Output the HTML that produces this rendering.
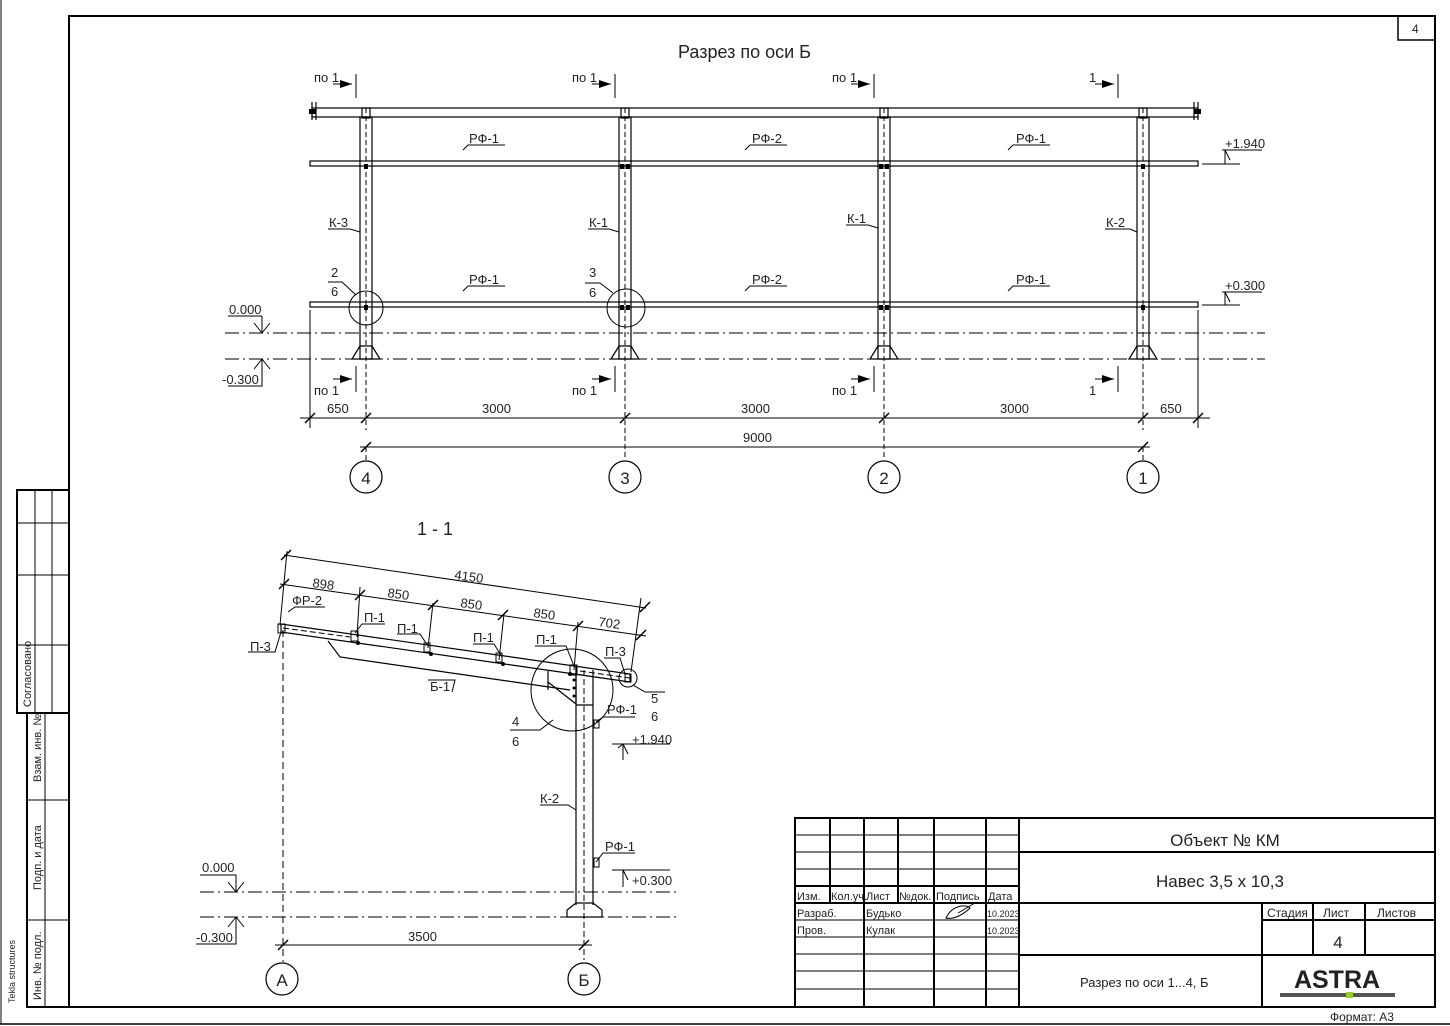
<!DOCTYPE html>
<html><head><meta charset="utf-8"><style>
html,body{margin:0;padding:0;background:#fff}
svg{display:block}
text{font-family:"Liberation Sans",sans-serif;fill:#222}
</style></head><body>
<svg width="1450" height="1026" viewBox="0 0 1450 1026" xmlns="http://www.w3.org/2000/svg">
<g fill="none" stroke="#000">
<!-- frame -->
<rect x="69" y="16" width="1366" height="991" stroke-width="2"/>
<line x1="1" y1="0" x2="1" y2="1024" stroke-width="1"/>
<line x1="0" y1="1024" x2="1450" y2="1024" stroke-width="1.5"/>
<rect x="1398" y="16" width="37" height="24" stroke-width="1.5"/>
<!-- left stamp -->
<rect x="17" y="490" width="52" height="223" stroke-width="2"/>
<line x1="35" y1="490" x2="35" y2="713" stroke-width="1"/>
<line x1="52" y1="490" x2="52" y2="713" stroke-width="1"/>
<line x1="17" y1="523" x2="69" y2="523" stroke-width="1"/>
<line x1="17" y1="575" x2="69" y2="575" stroke-width="1"/>
<line x1="17" y1="645" x2="69" y2="645" stroke-width="1"/>
<rect x="27" y="713" width="42" height="294" stroke-width="2"/>
<line x1="45" y1="713" x2="45" y2="1007" stroke-width="1"/>
<line x1="27" y1="800" x2="69" y2="800" stroke-width="1"/>
<line x1="27" y1="920" x2="69" y2="920" stroke-width="1"/>
</g>
<text x="0" y="0" font-size="11" transform="translate(31,707) rotate(-90)">Согласовано</text>
<text x="0" y="0" font-size="11" transform="translate(41,782) rotate(-90)">Взам. инв. №</text>
<text x="0" y="0" font-size="11" transform="translate(41,890) rotate(-90)">Подп. и дата</text>
<text x="0" y="0" font-size="11" transform="translate(41,1000) rotate(-90)">Инв. № подл.</text>
<text x="0" y="0" font-size="9" transform="translate(15,1003) rotate(-90)">Tekla structures</text>
<text x="1412" y="33" font-size="12">4</text>

<!-- ======== TOP SECTION ======== -->
<text x="678" y="58" font-size="18">Разрез по оси Б</text>
<g fill="none" stroke="#000" stroke-width="1.2">
<!-- top beam -->
<rect x="312" y="108" width="886" height="9"/>
<line x1="312" y1="102" x2="312" y2="120"/><line x1="316" y1="102" x2="316" y2="120"/>
<line x1="1194" y1="102" x2="1194" y2="120"/><line x1="1198" y1="102" x2="1198" y2="120"/>
<!-- rails -->
<rect x="310" y="161" width="888" height="5"/>
<rect x="310" y="302" width="888" height="5"/>
<!-- columns -->
<g id="col">
<rect x="360" y="117" width="12" height="242"/>
<rect x="362" y="108" width="8" height="10"/>
<path d="M352 359 L360 346 L372 346 L380 359 Z"/>
</g>
<use href="#col" x="259"/><use href="#col" x="518"/><use href="#col" x="777"/>
<g stroke-dasharray="5,3" stroke-width="1">
<line x1="366" y1="108" x2="366" y2="430"/><line x1="625" y1="108" x2="625" y2="460"/>
<line x1="884" y1="108" x2="884" y2="460"/><line x1="1143" y1="108" x2="1143" y2="430"/>
</g>
<!-- datum lines -->
<line x1="225" y1="333" x2="1265" y2="333" stroke-dasharray="14,4,2,4" stroke-width="1"/>
<line x1="225" y1="359" x2="1265" y2="359" stroke-dasharray="14,4,2,4" stroke-width="1"/>
<!-- detail circles -->
<circle cx="366" cy="308" r="17" stroke-width="1"/>
<circle cx="626" cy="308" r="19" stroke-width="1"/>
<!-- dims -->
<line x1="300" y1="418" x2="1210" y2="418" stroke-width="1"/>
<line x1="310" y1="310" x2="310" y2="428" stroke-width="1"/>
<line x1="1198" y1="310" x2="1198" y2="428" stroke-width="1"/>
<line x1="360" y1="447" x2="1150" y2="447" stroke-width="1"/>
<!-- ticks -->
<g stroke-width="1.5">
<line x1="305" y1="423" x2="315" y2="413"/><line x1="361" y1="423" x2="371" y2="413"/>
<line x1="620" y1="423" x2="630" y2="413"/><line x1="879" y1="423" x2="889" y2="413"/>
<line x1="1138" y1="423" x2="1148" y2="413"/><line x1="1193" y1="423" x2="1203" y2="413"/>
<line x1="361" y1="452" x2="371" y2="442"/><line x1="1138" y1="452" x2="1148" y2="442"/>
</g>
<line x1="366" y1="447" x2="366" y2="461" stroke-dasharray="5,3" stroke-width="1"/>
<line x1="1143" y1="447" x2="1143" y2="461" stroke-dasharray="5,3" stroke-width="1"/>
<circle cx="366" cy="477" r="16"/><circle cx="625" cy="477" r="16"/>
<circle cx="884" cy="477" r="16"/><circle cx="1143" cy="477" r="16"/>
<!-- section marks -->
<g stroke-width="1">
<line x1="356" y1="74" x2="356" y2="98"/><line x1="615" y1="74" x2="615" y2="98"/>
<line x1="874" y1="74" x2="874" y2="98"/><line x1="1118" y1="74" x2="1118" y2="98"/>
<line x1="356" y1="366" x2="356" y2="392"/><line x1="615" y1="366" x2="615" y2="392"/>
<line x1="874" y1="366" x2="874" y2="392"/><line x1="1118" y1="366" x2="1118" y2="392"/>
<line x1="333" y1="84" x2="352" y2="84"/><line x1="592" y1="84" x2="611" y2="84"/>
<line x1="851" y1="84" x2="870" y2="84"/><line x1="1095" y1="84" x2="1114" y2="84"/>
<line x1="333" y1="379" x2="352" y2="379"/><line x1="592" y1="379" x2="611" y2="379"/>
<line x1="851" y1="379" x2="870" y2="379"/><line x1="1095" y1="379" x2="1114" y2="379"/>
</g>
<!-- leaders -->
<g stroke-width="1">
<polyline points="463,150 468,145 505,145"/><polyline points="745,150 750,145 787,145"/>
<polyline points="1008,150 1013,145 1050,145"/>
<polyline points="463,291 468,286 505,286"/><polyline points="745,291 750,286 787,286"/>
<polyline points="1008,291 1013,286 1050,286"/>
<polyline points="360,232 350,229 328,229"/><polyline points="619,232 609,229 588,229"/>
<polyline points="878,228 868,225 846,225"/><polyline points="1137,232 1130,229 1105,229"/>
<polyline points="356,295 342,282 328,282"/><polyline points="613,293 600,283 585,283"/>
<!-- elevation marks -->
<polyline points="1202,164 1240,164"/><polyline points="1222,150 1262,150"/>
<polyline points="1230,160 1225,150 1225,164"/>
<polyline points="1202,305 1240,305"/><polyline points="1222,292 1262,292"/>
<polyline points="1230,302 1225,292 1225,305"/>
<polyline points="228,316 262,316"/><polyline points="262,316 262,333"/><line x1="254" y1="323" x2="262" y2="333"/><line x1="270" y1="323" x2="262" y2="333"/>
<polyline points="228,386 262,386 262,359"/><line x1="254" y1="369" x2="262" y2="359"/><line x1="270" y1="369" x2="262" y2="359"/>
</g>
</g>
<g fill="#000">
<polygon points="352,84 340,80 340,88"/><polygon points="611,84 599,80 599,88"/>
<polygon points="870,84 858,80 858,88"/><polygon points="1114,84 1102,80 1102,88"/>
<polygon points="352,379 340,375 340,383"/><polygon points="611,379 599,375 599,383"/>
<polygon points="870,379 858,375 858,383"/><polygon points="1114,379 1102,375 1102,383"/>
<rect x="364" y="164" width="4" height="5"/><rect x="364" y="305" width="4" height="5"/>
<rect x="620" y="164" width="4" height="5"/><rect x="626" y="164" width="4" height="5"/>
<rect x="620" y="305" width="4" height="5"/><rect x="626" y="305" width="4" height="5"/>
<rect x="879" y="164" width="4" height="5"/><rect x="885" y="164" width="4" height="5"/>
<rect x="879" y="305" width="4" height="5"/><rect x="885" y="305" width="4" height="5"/>
<rect x="1141" y="164" width="4" height="5"/><rect x="1141" y="305" width="4" height="5"/>
<rect x="309" y="109" width="7" height="5"/><rect x="1194" y="109" width="7" height="5"/>
</g>
<g font-size="13">
<text x="314" y="82">по 1</text><text x="572" y="82">по 1</text><text x="832" y="82">по 1</text><text x="1089" y="82">1</text>
<text x="314" y="395">по 1</text><text x="572" y="395">по 1</text><text x="832" y="395">по 1</text><text x="1089" y="395">1</text>
<text x="469" y="143">РФ-1</text><text x="752" y="143">РФ-2</text><text x="1016" y="143">РФ-1</text>
<text x="469" y="284">РФ-1</text><text x="752" y="284">РФ-2</text><text x="1016" y="284">РФ-1</text>
<text x="329" y="227">К-3</text><text x="589" y="227">К-1</text><text x="847" y="223">К-1</text><text x="1106" y="227">К-2</text>
<text x="331" y="277">2</text><text x="331" y="296">6</text><text x="589" y="277">3</text><text x="589" y="297">6</text>
<text x="1225" y="148">+1.940</text><text x="1225" y="290">+0.300</text>
<text x="229" y="314">0.000</text><text x="222" y="384">-0.300</text>
<text x="327" y="413">650</text><text x="482" y="413">3000</text><text x="741" y="413">3000</text><text x="1000" y="413">3000</text><text x="1160" y="413">650</text>
<text x="743" y="442">9000</text>
</g>
<g font-size="17" text-anchor="middle">
<text x="366" y="484">4</text><text x="625" y="484">3</text><text x="884" y="484">2</text><text x="1143" y="484">1</text>
</g>

<!-- ======== SECTION 1-1 ======== -->
<text x="417" y="535" font-size="18">1 - 1</text>
<g fill="none" stroke="#000" stroke-width="1.2">
<!-- rafter -->
<polygon points="281,624 630,674 630,682 281,632"/>
<line x1="283" y1="628" x2="350" y2="637" stroke-dasharray="6,3" stroke-width="1"/>
<line x1="580" y1="671" x2="630" y2="678" stroke-dasharray="6,3" stroke-width="1"/>
<!-- beam Б-1 -->
<polyline points="328,641 340,657 570,690"/>
<!-- bracket -->
<polyline points="548,682 576,704 576,666"/><line x1="548" y1="671" x2="548" y2="690"/>
<!-- column -->
<line x1="576" y1="666" x2="576" y2="905"/><line x1="593" y1="670" x2="593" y2="905"/>
<line x1="576" y1="705" x2="593" y2="705"/>
<line x1="584" y1="670" x2="584" y2="960" stroke-dasharray="6,3" stroke-width="1"/>
<path d="M567 917 L567 910 L576 903 L593 903 L602 910 L602 917 Z"/>
<!-- datum -->
<line x1="200" y1="892" x2="680" y2="892" stroke-dasharray="14,4,2,4" stroke-width="1"/>
<line x1="200" y1="917" x2="680" y2="917" stroke-dasharray="14,4,2,4" stroke-width="1"/>
<line x1="283" y1="630" x2="283" y2="962" stroke-dasharray="7,4" stroke-width="1"/>
<!-- circles -->
<circle cx="572" cy="690" r="41" stroke-width="1"/>
<circle cx="628" cy="678" r="9" stroke-width="1"/>
<circle cx="282" cy="979" r="16"/><circle cx="584" cy="979" r="16"/>
<!-- dims 3500 -->
<line x1="275" y1="945" x2="592" y2="945" stroke-width="1"/>
<line x1="278" y1="950" x2="288" y2="940" stroke-width="1.5"/><line x1="579" y1="950" x2="589" y2="940" stroke-width="1.5"/>
<!-- slope dims -->
<g stroke-width="1">
<line x1="284" y1="555" x2="646" y2="608"/>
<line x1="280" y1="584" x2="646" y2="636"/>
<line x1="287" y1="551" x2="280" y2="625"/>
<line x1="641" y1="598" x2="631" y2="672"/>
<line x1="360" y1="587" x2="357" y2="637"/>
<line x1="433" y1="603" x2="428" y2="648"/>
<line x1="504" y1="614" x2="499" y2="660"/>
<line x1="578" y1="622" x2="574" y2="670"/>
</g>
<g stroke-width="1.5">
<line x1="281" y1="560" x2="291" y2="550"/><line x1="640" y1="612" x2="650" y2="602"/>
<line x1="279" y1="589" x2="289" y2="579"/><line x1="355" y1="600" x2="365" y2="590"/>
<line x1="428" y1="610" x2="438" y2="600"/><line x1="498" y1="620" x2="508" y2="610"/>
<line x1="573" y1="631" x2="583" y2="621"/><line x1="636" y1="640" x2="646" y2="630"/>
</g>
<!-- leaders -->
<g stroke-width="1">
<polyline points="288,612 295,607 325,607"/><polyline points="281,632 275,652 248,652"/>
<polyline points="355,633 362,624 385,624"/><polyline points="428,646 420,634 397,634"/>
<polyline points="502,657 494,644 473,644"/><polyline points="574,666 566,646 535,646"/>
<polyline points="625,674 620,658 604,658"/>
<polyline points="452,692 455,680 428,680"/>
<polyline points="553,720 540,730 510,730"/>
<polyline points="633,685 645,692 665,692"/>
<polyline points="596,722 603,717 635,717"/>
<polyline points="576,810 568,805 540,805"/>
<polyline points="596,862 603,853 635,853"/>
<polyline points="612,744 670,744"/><polyline points="628,754 623,744 623,760"/><line x1="618" y1="748" x2="623" y2="744"/>
<polyline points="612,870 670,870"/><polyline points="628,880 623,870 623,887"/>
<polyline points="200,875 236,875 236,892"/><line x1="228" y1="882" x2="236" y2="892"/><line x1="244" y1="882" x2="236" y2="892"/>
<polyline points="196,944 236,944 236,917"/><line x1="228" y1="927" x2="236" y2="917"/><line x1="244" y1="927" x2="236" y2="917"/>
</g>
<!-- purlins -->
<g stroke-width="1">
<rect x="278" y="624" width="7" height="9"/><rect x="351" y="631" width="7" height="10"/>
<rect x="424" y="643" width="6" height="9"/><rect x="496" y="653" width="6" height="9"/>
<rect x="570" y="665" width="7" height="10"/><rect x="625" y="674" width="6" height="8"/>
<rect x="594" y="720" width="5" height="8"/><rect x="594" y="858" width="5" height="9"/>
</g>
</g>
<g fill="#000">
<circle cx="358" cy="643" r="2"/><circle cx="431" cy="654" r="2"/><circle cx="503" cy="664" r="2"/>
<circle cx="570" cy="674" r="2"/>
<circle cx="574" cy="680" r="1.5"/><circle cx="574" cy="688" r="1.5"/><circle cx="574" cy="696" r="1.5"/>
</g>
<g font-size="13">
<text x="454" y="579" transform="rotate(8 454 579)">4150</text>
<text x="312" y="587" transform="rotate(8 312 587)">898</text>
<text x="387" y="597" transform="rotate(8 387 597)">850</text>
<text x="460" y="607" transform="rotate(8 460 607)">850</text>
<text x="533" y="617" transform="rotate(8 533 617)">850</text>
<text x="598" y="626" transform="rotate(8 598 626)">702</text>
<text x="292" y="605">ФР-2</text><text x="250" y="651">П-3</text>
<text x="364" y="622">П-1</text><text x="397" y="633">П-1</text><text x="473" y="642">П-1</text>
<text x="536" y="644">П-1</text><text x="605" y="656">П-3</text>
<text x="430" y="691">Б-1</text><text x="512" y="726">4</text><text x="512" y="746">6</text>
<text x="651" y="703">5</text><text x="651" y="721">6</text>
<text x="607" y="714">РФ-1</text><text x="632" y="744">+1.940</text>
<text x="540" y="803">К-2</text>
<text x="605" y="851">РФ-1</text><text x="632" y="885">+0.300</text>
<text x="202" y="872">0.000</text><text x="196" y="942">-0.300</text>
<text x="408" y="941">3500</text>
</g>
<g font-size="17" text-anchor="middle"><text x="282" y="986">А</text><text x="584" y="986">Б</text></g>

<!-- ======== TITLE BLOCK ======== -->
<g fill="none" stroke="#000" stroke-width="2">
<rect x="795" y="818" width="640" height="189"/>
<line x1="1019" y1="818" x2="1019" y2="1007"/>
<line x1="795" y1="903" x2="1435" y2="903"/>
<line x1="1019" y1="852" x2="1435" y2="852"/>
<line x1="1019" y1="955" x2="1435" y2="955"/>
<line x1="1262" y1="903" x2="1262" y2="1007"/>
<line x1="1262" y1="920" x2="1435" y2="920"/>
<line x1="1313" y1="903" x2="1313" y2="955"/>
<line x1="1365" y1="903" x2="1365" y2="955"/>
<line x1="830" y1="818" x2="830" y2="903"/>
<line x1="864" y1="818" x2="864" y2="1007"/>
<line x1="898" y1="818" x2="898" y2="903"/>
<line x1="934" y1="818" x2="934" y2="1007"/>
<line x1="986" y1="818" x2="986" y2="1007"/>
<line x1="795" y1="886" x2="1019" y2="886"/>
</g>
<g fill="none" stroke="#000" stroke-width="1">
<line x1="795" y1="835" x2="1019" y2="835"/><line x1="795" y1="852" x2="1019" y2="852"/>
<line x1="795" y1="869" x2="1019" y2="869"/>
<line x1="795" y1="920" x2="1019" y2="920"/><line x1="795" y1="937" x2="1019" y2="937"/>
<line x1="795" y1="954" x2="1019" y2="954"/><line x1="795" y1="971" x2="1019" y2="971"/>
<line x1="795" y1="989" x2="1019" y2="989"/>
<path d="M946 918 C952 905 966 904 970 908 C964 914 954 920 946 918 Z M958 913 L975 903"/>
</g>
<g font-size="11">
<text x="797" y="900">Изм.</text><text x="831" y="900">Кол.уч.</text><text x="866" y="900">Лист</text>
<text x="899" y="900">№док.</text><text x="936" y="900">Подпись</text><text x="988" y="900">Дата</text>
<text x="797" y="917">Разраб.</text><text x="866" y="917">Будько</text><text x="987" y="917" font-size="9">10.2023</text>
<text x="797" y="934">Пров.</text><text x="866" y="934">Кулак</text><text x="987" y="934" font-size="9">10.2023</text>
<text x="1267" y="917" font-size="12">Стадия</text><text x="1323" y="917" font-size="12">Лист</text><text x="1377" y="917" font-size="12">Листов</text>
</g>
<text x="1225" y="846" font-size="17" text-anchor="middle">Объект № КМ</text>
<text x="1220" y="887" font-size="17" text-anchor="middle">Навес 3,5 x 10,3</text>
<text x="1338" y="948" font-size="17" text-anchor="middle">4</text>
<text x="1080" y="987" font-size="13">Разрез по оси 1...4, Б</text>
<text x="1337" y="988" font-size="25" font-weight="bold" text-anchor="middle" fill="#333">ASTRA</text>
<rect x="1280" y="993" width="115" height="4" fill="#555"/>
<rect x="1346" y="992" width="7" height="6" fill="#9c3"/>
<text x="1330" y="1021" font-size="12">Формат: А3</text>
</svg>
</body></html>
